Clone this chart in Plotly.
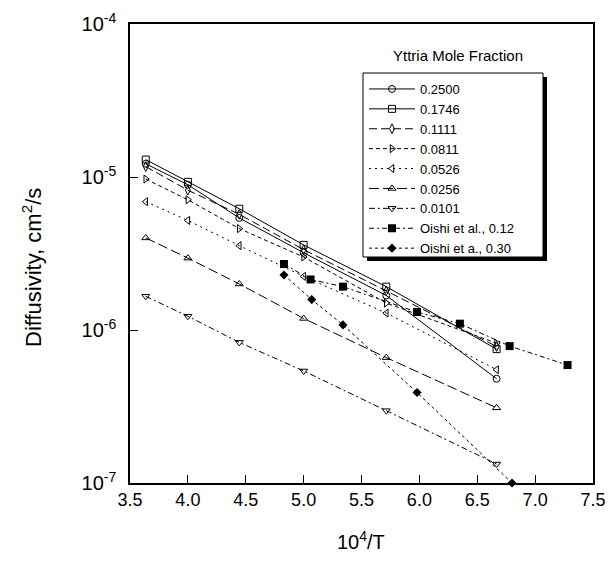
import plotly.graph_objects as go

# ---- data ----
inv_T = [3.636, 4.000, 4.444, 5.000, 5.714, 6.667]
series_names = ["0.2500", "0.1746", "0.1111", "0.0811", "0.0526", "0.0256", "0.0101"]
d_02500 = [1.22e-5, 8.9e-6, 5.4e-6, 3.2e-6, 1.68e-6, 4.8e-7]
d_01746 = [1.30e-5, 9.3e-6, 6.2e-6, 3.6e-6, 1.92e-6, 7.5e-7]
d_01111 = [1.17e-5, 8.2e-6, 5.7e-6, 3.35e-6, 1.80e-6, 7.8e-7]
d_00811 = [9.7e-6, 7.1e-6, 4.6e-6, 3.0e-6, 1.50e-6, 8.2e-7]
d_00526 = [6.9e-6, 5.2e-6, 3.56e-6, 2.24e-6, 1.29e-6, 5.5e-7]
d_00256 = [4.0e-6, 2.95e-6, 2.0e-6, 1.19e-6, 6.6e-7, 3.1e-7]
d_00101 = [1.66e-6, 1.23e-6, 8.3e-7, 5.4e-7, 2.97e-7, 1.33e-7]

oishi12_x = [4.83, 5.06, 5.34, 5.98, 6.35, 6.78, 7.28]
oishi12_y = [2.7e-6, 2.14e-6, 1.92e-6, 1.31e-6, 1.10e-6, 7.85e-7, 5.9e-7]
oishi30_x = [4.83, 5.07, 5.34, 5.98, 6.80]
oishi30_y = [2.29e-6, 1.58e-6, 1.08e-6, 3.9e-7, 1.0e-7]

x_ticks = [3.5, 4.0, 4.5, 5.0, 5.5, 6.0, 6.5, 7.0, 7.5]
y_ticks = [1e-7, 1e-6, 1e-5, 1e-4]
y_ticktext = ["10<sup>-7</sup>", "10<sup>-6</sup>", "10<sup>-5</sup>", "10<sup>-4</sup>"]

FONT = "Liberation Sans, Arial, sans-serif"

styles = [
    ("circle-open", "solid"),
    ("square-open", "solid"),
    ("diamond-tall-open", "8px,4px"),
    ("triangle-right-open", "4px,3px"),
    ("triangle-left-open", "2px,4px"),
    ("triangle-up-open", "10px,4px"),
    ("triangle-down-open", "6px,3px,2px,3px"),
]
values = [d_02500, d_01746, d_01111, d_00811, d_00526, d_00256, d_00101]

fig = go.Figure()
for name, vals, (sym, dash) in zip(series_names, values, styles):
    fig.add_trace(go.Scatter(
        x=inv_T, y=vals, name=name, mode="lines+markers",
        line=dict(color="black", width=1, dash=dash),
        marker=dict(symbol=sym, size=7, color="black", line=dict(color="black", width=1)),
    ))

fig.add_trace(go.Scatter(
    x=oishi12_x, y=oishi12_y, name="Oishi et al., 0.12", mode="lines+markers",
    line=dict(color="black", width=1, dash="5px,3px,2px,3px"),
    marker=dict(symbol="square", size=8, color="black"),
))
fig.add_trace(go.Scatter(
    x=oishi30_x, y=oishi30_y, name="Oishi et a., 0.30", mode="lines+markers",
    line=dict(color="black", width=1, dash="3px,3px"),
    marker=dict(symbol="diamond", size=7, color="black"),
    cliponaxis=False,
))

# plot area in pixels: x 130..593, y 24..483
PW, PH = 463.0, 459.0
def px_x(p):
    return (p - 130) / PW
def px_y(p):
    return (483 - p) / PH

box_l, box_r, box_t, box_b = 363, 543, 73, 257
# legend drop shadow and box
fig.add_shape(type="rect", xref="paper", yref="paper",
              x0=px_x(box_l + 4), x1=px_x(box_r + 4), y0=px_y(box_b + 4), y1=px_y(box_t + 4),
              fillcolor="black", line=dict(width=0), layer="above")
fig.add_shape(type="rect", xref="paper", yref="paper",
              x0=px_x(box_l), x1=px_x(box_r), y0=px_y(box_b), y1=px_y(box_t),
              fillcolor="white", line=dict(color="black", width=1), layer="above")

fig.add_annotation(text="Yttria Mole Fraction", xref="paper", yref="paper",
                   x=px_x(458), y=px_y(55), showarrow=False, xanchor="center", yanchor="middle",
                   font=dict(family=FONT, size=15, color="black"))

# axis titles
fig.add_annotation(text="10<sup>4</sup>/T", xref="paper", yref="paper",
                   x=px_x(361), y=px_y(540), showarrow=False, xanchor="center", yanchor="middle",
                   font=dict(family=FONT, size=20, color="black"))
fig.add_annotation(text="Diffusivity, cm<sup>2</sup>/s", xref="paper", yref="paper",
                   x=px_x(32), y=px_y(268), showarrow=False, xanchor="center", yanchor="middle",
                   textangle=-90, font=dict(family=FONT, size=22, color="black"))

fig.update_layout(
    width=610, height=565,
    margin=dict(l=130, r=17, t=24, b=82),
    paper_bgcolor="white", plot_bgcolor="white",
    font=dict(family=FONT, size=16, color="black"),
    showlegend=True,
    legend=dict(x=px_x(box_l + 1), y=px_y(box_t + 1), xanchor="left", yanchor="top",
                bgcolor="rgba(0,0,0,0)", borderwidth=0,
                font=dict(family=FONT, size=13, color="black"),
                itemwidth=46, tracegroupgap=0),
    xaxis=dict(range=[3.5, 7.5], tickvals=x_ticks, ticktext=[f"{v:.1f}" for v in x_ticks],
               ticks="inside", ticklen=8, tickwidth=1, tickcolor="black",
               tickfont=dict(size=18),
               showline=True, linecolor="black", linewidth=1.5, mirror=True,
               showgrid=False, zeroline=False, automargin=False),
    yaxis=dict(type="log", range=[-7, -4], tickvals=y_ticks, ticktext=y_ticktext,
               ticks="inside", ticklen=8, tickwidth=1, tickcolor="black",
               tickfont=dict(size=20),
               showline=True, linecolor="black", linewidth=1.5, mirror=True,
               showgrid=False, zeroline=False, ticklabelstandoff=8, automargin=False),
)

fig.write_html("out.html", config={"displayModeBar": False},
               post_script="document.body.style.margin='0px';")
